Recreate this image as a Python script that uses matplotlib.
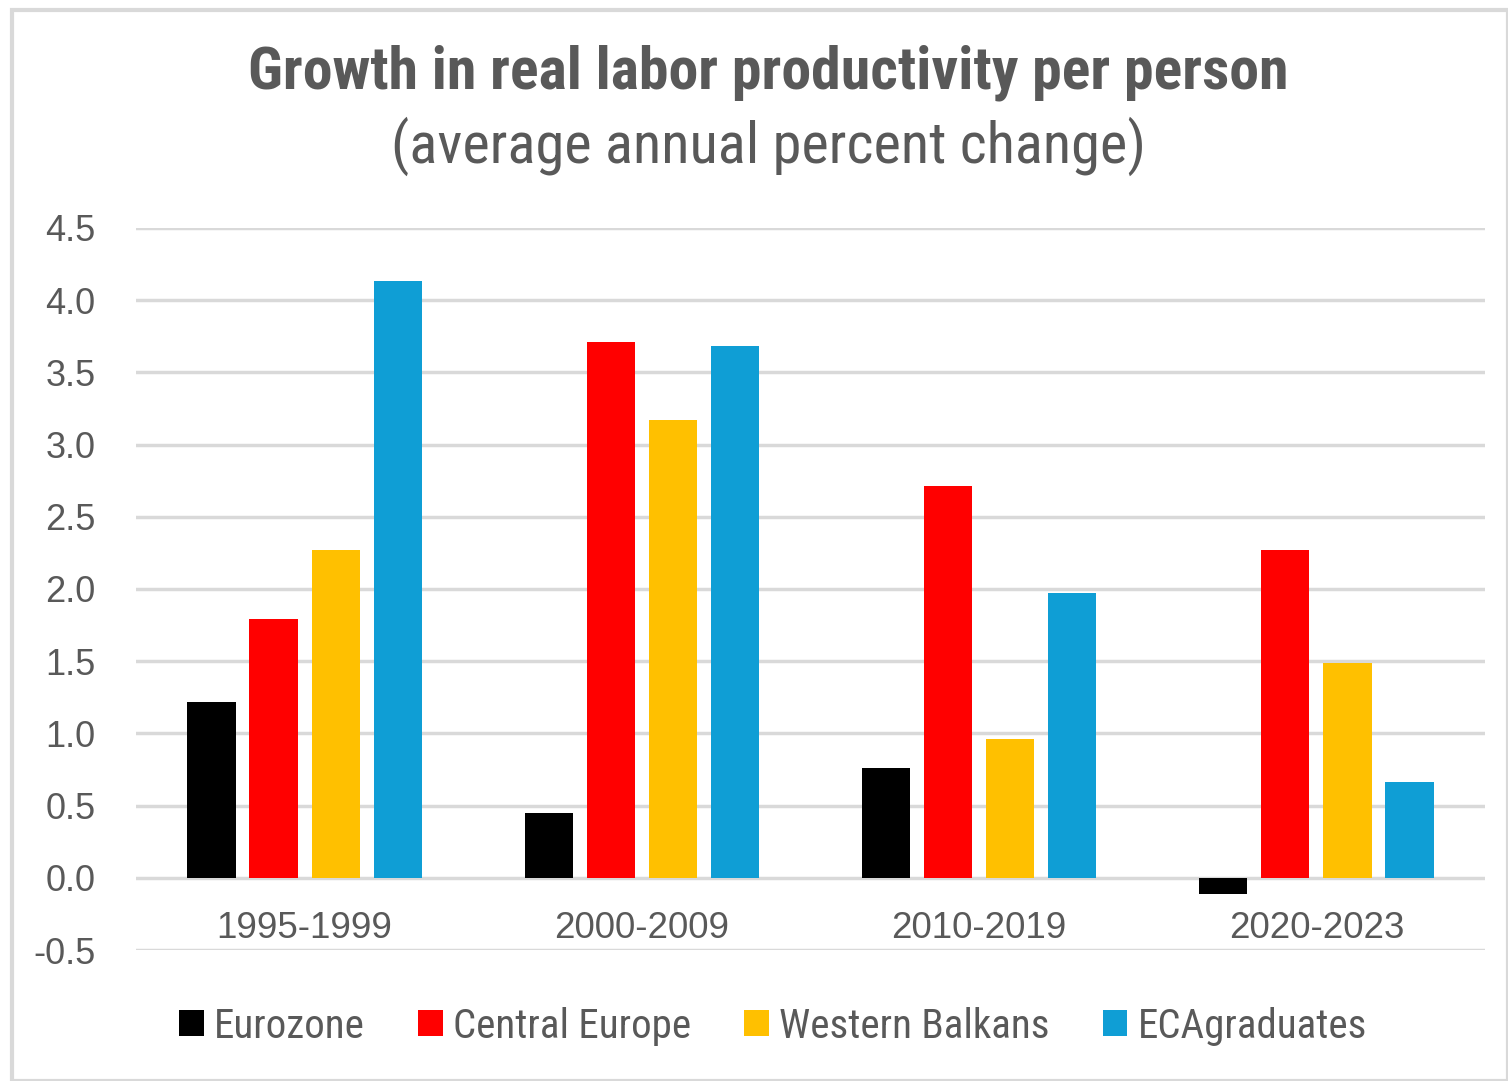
import numpy as np
import matplotlib
matplotlib.use("Agg")
import matplotlib.pyplot as plt
from matplotlib import font_manager
from matplotlib.patches import Rectangle

periods = ["1995-1999", "2000-2009", "2010-2019", "2020-2023"]
series = ["Eurozone", "Central Europe", "Western Balkans", "ECAgraduates"]
eurozone = [1.22, 0.45, 0.76, -0.11]
central_europe = [1.79, 3.71, 2.71, 2.27]
western_balkans = [2.27, 3.17, 0.96, 1.49]
eca_graduates = [4.13, 3.68, 1.97, 0.66]
colors = ["#000000", "#FF0000", "#FFC000", "#0F9ED5"]
yticks = [-0.5, 0.0, 0.5, 1.0, 1.5, 2.0, 2.5, 3.0, 3.5, 4.0, 4.5]

# pick a narrow face for the title/legend if one is installed
narrow = "Liberation Sans"
for name in ["Liberation Sans Narrow", "Roboto Condensed", "Open Sans Condensed"]:
    try:
        font_manager.findfont(name, fallback_to_default=False)
        narrow = name
        break
    except Exception:
        pass

grey = "#595959"
fig = plt.figure(figsize=(15.08, 10.81), dpi=100)
fig.patches.append(Rectangle((12 / 1508, 0), 1 - 12 / 1508, 1 - 10 / 1081,
                             transform=fig.transFigure, fill=False,
                             edgecolor="#D9D9D9", linewidth=3))

ax = fig.add_axes([136 / 1508, 1 - 950 / 1081, (1485 - 136) / 1508, (950 - 228) / 1081])

x = np.arange(len(periods))
step = 0.184
width = 0.143
data = [eurozone, central_europe, western_balkans, eca_graduates]
for i, (vals, name, c) in enumerate(zip(data, series, colors)):
    ax.bar(x + (i - 1.5) * step, vals, width, color=c, label=name, zorder=3)

ax.set_xlim(-0.5, 3.5)
ax.set_ylim(-0.5, 4.5)
ax.set_yticks(yticks)
ax.set_yticklabels([f"{v:.1f}" for v in yticks], fontsize=26, color=grey,
                   family="Liberation Sans")
ax.grid(axis="y", color="#D9D9D9", linewidth=2.5, zorder=0)
ax.tick_params(axis="both", length=0)
ax.tick_params(axis="y", pad=29)
for s in ax.spines.values():
    s.set_visible(False)

ax.set_xticks([])
for xi, p in zip(x, periods):
    ax.text(xi, -0.35, p, ha="center", va="center", fontsize=26.5, color=grey,
            family="Liberation Sans")

fig.text(768 / 1508, 1 - 73 / 1081, "Growth in real labor productivity per person",
         ha="center", va="center", fontsize=43, fontweight="bold", color=grey, family=narrow)
fig.text(768 / 1508, 1 - 146 / 1081, "(average annual percent change)",
         ha="center", va="center", fontsize=42, color=grey, family=narrow)

leg = fig.legend(loc="center", bbox_to_anchor=(773 / 1508, 1 - 1026 / 1081), ncol=4,
                 frameon=False, handlelength=0.6, handleheight=0.6, handletextpad=0.25,
                 columnspacing=1.3, prop={"family": narrow, "size": 29.5})
for t in leg.get_texts():
    t.set_color(grey)

fig.savefig("out.png", dpi=100)
